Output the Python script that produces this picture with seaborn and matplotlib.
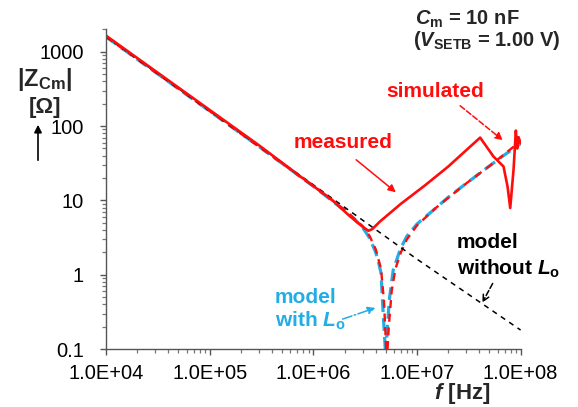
import math
import matplotlib
matplotlib.use("Agg")
import matplotlib.pyplot as plt
import matplotlib.ticker as mticker
import seaborn as sns

# model without Lo (pure capacitance)
f_noL = [1e4, 1e5, 1e6, 1e7, 1e8]
z_noL = [1600, 160, 16.2, 1.62, 0.18]

# model with Lo
f_withL = [1e4, 3e4, 1e5, 3e5, 1e6, 1.5e6, 2e6, 2.5e6, 3e6, 3.5e6, 4e6, 4.3e6,
           4.5e6, 4.75e6, 4.95e6, 5.02e6, 5.12e6, 5.4e6, 5.9e6, 6.9e6, 8e6,
           1e7, 1.44e7, 2e7, 3e7, 5e7, 7e7, 1e8]
z_withL = [1590, 530, 159, 53, 15.5, 10, 7.3, 5.6, 4.3, 3.1, 2.0, 1.4,
           1.05, 0.26, 0.1, 0.06, 0.15, 0.45, 1.15, 2.2, 3.3,
           4.8, 7.4, 11, 17, 29, 41, 58]

# simulated
f_sim = [1e4, 1e5, 1e6, 2e6, 3e6, 3.5e6, 4e6, 4.5e6, 4.8e6, 5.05e6, 5.12e6,
         5.2e6, 5.35e6, 5.7e6, 6.2e6, 7e6, 8e6, 1e7, 1.5e7, 2e7, 3e7, 5e7,
         7e7, 1e8]
z_sim = [1590, 159, 15.6, 7.5, 4.5, 3.3, 2.2, 1.2, 0.45, 0.1, 0.06,
         0.1, 0.2, 0.6, 1.2, 2.0, 3.0, 4.6, 7.8, 10.8, 17, 29,
         42, 63]

# measured
f_meas = [1e4, 3e4, 1e5, 3e5, 7.5e5, 1.5e6, 2.26e6, 3e6, 3.4e6, 3.7e6, 4.4e6,
          7e6, 1.2e7, 2e7, 4.07e7, 5.47e7, 6.84e7, 7.48e7, 7.94e7,
          8.55e7, 9.0e7, 9.27e7, 9.55e7, 1e8]
z_meas = [1650, 550, 165, 55, 21, 10.3, 6.1, 4.4, 3.9, 4.1, 5.2,
          9.0, 16, 28.5, 70, 39, 28.6, 15.4, 7.9,
          26, 87, 50, 71, 59]

RED = "#ff0d0d"
BLUE = "#22ade4"

sns.set_style("ticks")
plt.rcParams["font.family"] = ["Liberation Sans", "DejaVu Sans"]
plt.rcParams["mathtext.fontset"] = "custom"
plt.rcParams["mathtext.rm"] = "Liberation Sans:bold"
plt.rcParams["mathtext.bf"] = "Liberation Sans:bold"
plt.rcParams["mathtext.it"] = "Liberation Sans:bold:italic"
plt.rcParams["mathtext.bfit"] = "Liberation Sans:bold:italic"

fig = plt.figure(figsize=(5.78, 4.07), dpi=100)
ax = fig.add_axes([0.1834, 0.1425, 0.7173, 0.7852])

sns.lineplot(x=f_withL, y=z_withL, ax=ax, color=BLUE, lw=2.3,
             linestyle=(0, (4.0, 1.9)), estimator=None, sort=False)
sns.lineplot(x=f_sim, y=z_sim, ax=ax, color=RED, lw=1.7,
             linestyle=(0, (3.4, 2.4)), estimator=None, sort=False)
sns.lineplot(x=f_noL, y=z_noL, ax=ax, color="black", lw=1.1,
             linestyle=(0, (3.4, 3.2)), estimator=None, sort=False)
sns.lineplot(x=f_meas, y=z_meas, ax=ax, color=RED, lw=1.9,
             estimator=None, sort=False)

ax.set_xscale("log")
ax.set_yscale("log")
ax.set_xlim(1e4, 1e8)
ax.set_ylim(0.1, 2000)
ax.set_xlabel("")
ax.set_ylabel("")

ax.xaxis.set_major_locator(mticker.LogLocator(base=10, numticks=10))
ax.xaxis.set_minor_locator(mticker.LogLocator(base=10, subs=range(2, 10), numticks=20))
ax.yaxis.set_major_locator(mticker.LogLocator(base=10, numticks=10))
ax.yaxis.set_minor_locator(mticker.LogLocator(base=10, subs=range(2, 10), numticks=20))
ax.xaxis.set_major_formatter(mticker.FuncFormatter(lambda v, p: "1.0E+%02d" % round(math.log10(v))))
ax.yaxis.set_major_formatter(mticker.FuncFormatter(lambda v, p: "%g" % v))
ax.xaxis.set_minor_formatter(mticker.NullFormatter())
ax.yaxis.set_minor_formatter(mticker.NullFormatter())

for s in ["top", "right"]:
    ax.spines[s].set_visible(False)
for s in ["left", "bottom"]:
    ax.spines[s].set_color("#555555")
    ax.spines[s].set_linewidth(1.0)
ax.tick_params(which="major", length=4.5, width=1.0, color="#555555",
               labelsize=14.5, labelcolor="black")
ax.tick_params(which="minor", length=2.6, width=0.9, color="#777777")
ax.tick_params(axis="x", which="major", pad=6.5)
ax.tick_params(axis="y", which="major", pad=11.5)


def fp(x, y):
    return (x / 578.0, 1 - y / 407.0)


# axis labels
fig.text(*fp(17, 86), r"$\mathbf{|Z_{Cm}|}$", fontsize=17, ha="left", va="baseline")
fig.text(*fp(45, 113), "[Ω]", fontsize=16, fontweight="bold", ha="center", va="baseline")
ax.annotate("", xy=fp(38, 122), xytext=fp(38, 163), xycoords="figure fraction",
            textcoords="figure fraction",
            arrowprops=dict(arrowstyle="-|>", color="black", lw=1.2, mutation_scale=11))
fig.text(*fp(462, 399), r"$\mathbfit{f}$ [Hz]", fontsize=16, fontweight="bold",
         ha="center", va="baseline")

# top right note
fig.text(*fp(415, 25), r"$\mathbfit{C}_\mathbf{m}$ = 10 nF", fontsize=14.5,
         fontweight="bold", ha="left", va="baseline")
fig.text(*fp(413, 46), r"($\mathbfit{V}_\mathbf{SETB}$ = 1.00 V)", fontsize=14.5,
         fontweight="bold", ha="left", va="baseline")

# curve labels
fig.text(*fp(435, 97), "simulated", color=RED, fontsize=15, fontweight="bold",
         ha="center", va="baseline")
ax.annotate("", xy=fp(505, 142), xytext=fp(458, 104), xycoords="figure fraction",
            textcoords="figure fraction",
            arrowprops=dict(arrowstyle="-|>", color=RED, lw=1.1, linestyle="--",
                            mutation_scale=11))

fig.text(*fp(343, 148), "measured", color=RED, fontsize=15, fontweight="bold",
         ha="center", va="baseline")
ax.annotate("", xy=fp(398, 194), xytext=fp(354, 158), xycoords="figure fraction",
            textcoords="figure fraction",
            arrowprops=dict(arrowstyle="-|>", color=RED, lw=1.1, mutation_scale=11))

fig.text(*fp(457, 248), "model", color="black", fontsize=15, fontweight="bold",
         ha="left", va="baseline")
fig.text(*fp(457, 275), r"without $\mathbfit{L}_\mathbf{o}$", color="black", fontsize=15,
         fontweight="bold", ha="left", va="baseline")
ax.annotate("", xy=fp(481, 305), xytext=fp(494, 281), xycoords="figure fraction",
            textcoords="figure fraction",
            arrowprops=dict(arrowstyle="->", color="black", lw=1.1, linestyle="--",
                            mutation_scale=11))

fig.text(*fp(275, 303), "model", color=BLUE, fontsize=15, fontweight="bold",
         ha="left", va="baseline")
fig.text(*fp(275, 327), r"with $\mathbfit{L}_\mathbf{o}$", color=BLUE, fontsize=15,
         fontweight="bold", ha="left", va="baseline")
ax.annotate("", xy=fp(378, 307), xytext=fp(340, 320), xycoords="figure fraction",
            textcoords="figure fraction",
            arrowprops=dict(arrowstyle="-|>", color=BLUE, lw=1.1, linestyle="-.",
                            mutation_scale=11))

fig.savefig("out.png", dpi=100)
